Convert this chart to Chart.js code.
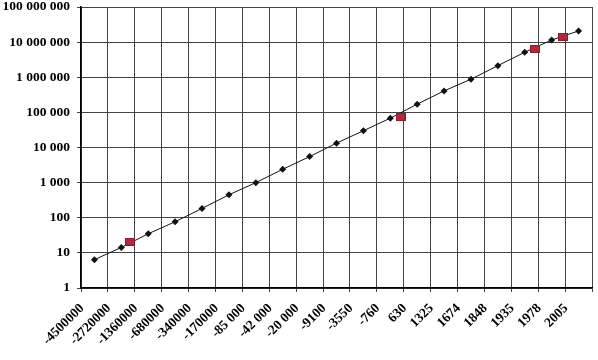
<!DOCTYPE html>
<html>
<head>
<meta charset="utf-8">
<script src="https://cdn.jsdelivr.net/npm/chart.js@4/dist/chart.umd.min.js"></script>
<style>
  html, body { margin: 0; padding: 0; background: #fff; }
  #wrap { width: 598px; height: 360px; position: relative; }
</style>
</head>
<body>
<div id="wrap"><canvas id="c" width="598" height="360"></canvas></div>
<script>
// Category labels along the x axis (one per grid line)
const xLabels = ["-4500000", "-2720000", "-1360000", "-680000", "-340000", "-170000",
  "-85 000", "-42 000", "-20 000", "-9100", "-3550", "-760", "630", "1325",
  "1674", "1848", "1935", "1978", "2005"];

// Black diamond series: one value per category (plotted at the category centre)
const diamondValues = [6.4, 14.3, 35, 77, 184, 450, 1000, 2400, 5500, 13300, 30000,
  68400, 171000, 408000, 880000, 2140000, 5150000, 11500000, 20800000];

// Red square series: positions along the category axis and values
const squarePositions = [1.82, 11.88, 16.88, 17.92];
const squareValues = [20.7, 73000, 6400000, 14300000];

// Y tick values (decades)
const yTicks = [1, 10, 100, 1000, 10000, 100000, 1000000, 10000000, 100000000];

const diamondData = diamondValues.map((v, i) => ({ x: i + 0.5, y: v }));
const squareData = squarePositions.map((p, i) => ({ x: p, y: squareValues[i] }));

// red rectangle marker
const sq = document.createElement('canvas');
sq.width = 10; sq.height = 8;
const sctx = sq.getContext('2d');
sctx.fillStyle = '#b02a3e';
sctx.fillRect(0, 0, 10, 8);
sctx.strokeStyle = '#8a1a2c';
sctx.lineWidth = 1;
sctx.strokeRect(0.5, 0.5, 9, 7);

const fmt = v => String(Math.round(v)).replace(/\B(?=(\d{3})+(?!\d))/g, ' ');
const tickFont = { family: "'Liberation Serif', 'Times New Roman', serif", size: 13.5, weight: 'bold' };

new Chart(document.getElementById('c'), {
  type: 'line',
  data: {
    datasets: [
      {
        data: diamondData,
        borderColor: '#111',
        borderWidth: 1,
        pointStyle: 'rectRot',
        pointRadius: 3.5,
        pointBackgroundColor: '#111',
        pointBorderColor: '#111',
        pointBorderWidth: 0,
        tension: 0,
        order: 2
      },
      {
        data: squareData,
        showLine: false,
        pointStyle: sq,
        pointRadius: 5,
        order: 1
      }
    ]
  },
  options: {
    responsive: false,
    animation: false,
    events: [],
    layout: { padding: { top: 7, right: 2, left: 0, bottom: 0 } },
    plugins: { legend: { display: false }, tooltip: { enabled: false } },
    scales: {
      x: {
        type: 'linear',
        min: 0,
        max: 19,
        afterBuildTicks: s => { s.ticks = xLabels.map((_, i) => ({ value: i })).concat([{ value: 19 }]); },
        afterFit: s => { s.height = 72; s.paddingLeft = 0; s.paddingRight = 0; },
        ticks: {
          autoSkip: false,
          maxRotation: 45,
          minRotation: 45,
          color: '#000',
          font: tickFont,
          padding: 8.5,
          labelOffset: 1,
          callback: v => (xLabels[v] !== undefined ? xLabels[v] : '')
        },
        grid: { color: '#444', lineWidth: 1, tickLength: 4 },
        border: { color: '#000', width: 1.5 }
      },
      y: {
        type: 'logarithmic',
        min: 1,
        max: 100000000,
        afterBuildTicks: s => { s.ticks = yTicks.map(v => ({ value: v })); },
        afterFit: s => { s.width = 81; s.paddingTop = 0; s.paddingBottom = 0; },
        ticks: {
          color: '#000',
          font: tickFont,
          padding: 7,
          callback: v => fmt(v)
        },
        grid: { color: '#444', lineWidth: 1, tickLength: 4 },
        border: { color: '#000', width: 1.5 }
      }
    }
  }
});
</script>
</body>
</html>
